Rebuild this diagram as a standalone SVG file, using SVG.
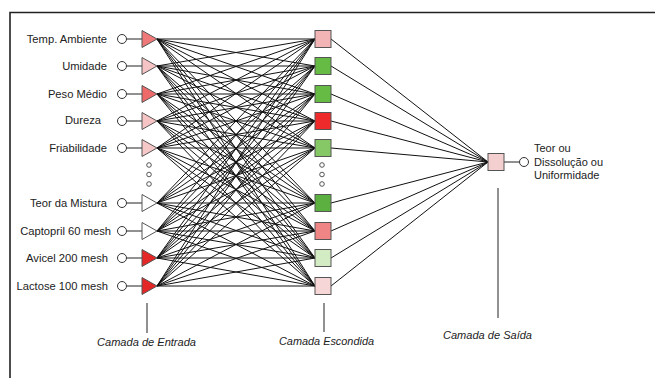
<svg xmlns="http://www.w3.org/2000/svg" width="655" height="378" viewBox="0 0 655 378">
  <style>
    .lbl { font-family: "Liberation Sans", Arial, sans-serif; font-size: 11.2px; fill: #222; }
    .layer { font-family: "Liberation Sans", Arial, sans-serif; font-size: 11px; font-style: italic; fill: #222; }
    .node { stroke: #555; stroke-width: 1; }
    .pin { fill: #fff; stroke: #333; stroke-width: 1; }
    .wire { fill: none; stroke: #222; stroke-width: 1; }
    .mesh { fill: none; stroke: #111; stroke-width: 1; }
    .dot { fill: none; stroke: #444; stroke-width: 0.9; }
  </style>
  <rect width="655" height="378" fill="#fff"/>
  <!-- frame -->
  <path d="M10,378 V12.5 H655" fill="none" stroke="#222" stroke-width="1.6"/>

  <!-- connectors -->
  <g id="connectors">
    <path class="mesh" d="M157,39 L315,39 M157,39 L315,66 M157,39 L315,94 M157,39 L315,121 M157,39 L315,148 M157,39 L315,203 M157,39 L315,231 M157,39 L315,258 M157,39 L315,286"/>
    <path class="mesh" d="M157,66 L315,39 M157,66 L315,66 M157,66 L315,94 M157,66 L315,121 M157,66 L315,148 M157,66 L315,203 M157,66 L315,231 M157,66 L315,258 M157,66 L315,286"/>
    <path class="mesh" d="M157,94 L315,39 M157,94 L315,66 M157,94 L315,94 M157,94 L315,121 M157,94 L315,148 M157,94 L315,203 M157,94 L315,231 M157,94 L315,258 M157,94 L315,286"/>
    <path class="mesh" d="M157,121 L315,39 M157,121 L315,66 M157,121 L315,94 M157,121 L315,121 M157,121 L315,148 M157,121 L315,203 M157,121 L315,231 M157,121 L315,258 M157,121 L315,286"/>
    <path class="mesh" d="M157,148 L315,39 M157,148 L315,66 M157,148 L315,94 M157,148 L315,121 M157,148 L315,148 M157,148 L315,203 M157,148 L315,231 M157,148 L315,258 M157,148 L315,286"/>
    <path class="mesh" d="M157,203 L315,39 M157,203 L315,66 M157,203 L315,94 M157,203 L315,121 M157,203 L315,148 M157,203 L315,203 M157,203 L315,231 M157,203 L315,258 M157,203 L315,286"/>
    <path class="mesh" d="M157,231 L315,39 M157,231 L315,66 M157,231 L315,94 M157,231 L315,121 M157,231 L315,148 M157,231 L315,203 M157,231 L315,231 M157,231 L315,258 M157,231 L315,286"/>
    <path class="mesh" d="M157,258 L315,39 M157,258 L315,66 M157,258 L315,94 M157,258 L315,121 M157,258 L315,148 M157,258 L315,203 M157,258 L315,231 M157,258 L315,258 M157,258 L315,286"/>
    <path class="mesh" d="M157,286 L315,39 M157,286 L315,66 M157,286 L315,94 M157,286 L315,121 M157,286 L315,148 M157,286 L315,203 M157,286 L315,231 M157,286 L315,258 M157,286 L315,286"/>
    <!-- hidden to output -->
    <path class="mesh" d="M331,39 L488,162 M331,66 L488,162 M331,94 L488,162 M331,121 L488,162 M331,148 L488,162 M331,203 L488,162 M331,231 L488,162 M331,258 L488,162 M331,286 L488,162"/>
    <!-- input pins to triangles -->
    <path class="wire" d="M126.5,39 H142 M126.5,66 H142 M126.5,94 H142 M126.5,121 H142 M126.5,148 H142 M126.5,203 H142 M126.5,231 H142 M126.5,258 H142 M126.5,286 H142"/>
    <!-- output square to pin -->
    <path class="wire" d="M504,162 H519.5"/>
    <!-- layer markers -->
    <path class="wire" d="M147,303 V333 M324,303 V332 M498,188 V318"/>
  </g>

  <!-- input layer -->
  <g id="in-temp"><text class="lbl" x="107" y="43" text-anchor="end">Temp. Ambiente</text><circle class="pin" cx="122" cy="39" r="4.5"/><polygon class="node" points="142,30.5 142,47.5 157,39" fill="#ef7878"/></g>
  <g id="in-umidade"><text class="lbl" x="107" y="70" text-anchor="end">Umidade</text><circle class="pin" cx="122" cy="66" r="4.5"/><polygon class="node" points="142,57.5 142,74.5 157,66" fill="#f6c4c4"/></g>
  <g id="in-peso"><text class="lbl" x="107" y="98" text-anchor="end">Peso Médio</text><circle class="pin" cx="122" cy="94" r="4.5"/><polygon class="node" points="142,85.5 142,102.5 157,94" fill="#ee6a6a"/></g>
  <g id="in-dureza"><text class="lbl" x="101" y="124" text-anchor="end">Dureza</text><circle class="pin" cx="122" cy="121" r="4.5"/><polygon class="node" points="142,112.5 142,129.5 157,121" fill="#f6c4c4"/></g>
  <g id="in-friab"><text class="lbl" x="107" y="152" text-anchor="end">Friabilidade</text><circle class="pin" cx="122" cy="148" r="4.5"/><polygon class="node" points="142,139.5 142,156.5 157,148" fill="#f6c8c8"/></g>
  <g id="in-ellipsis"><circle class="dot" cx="149" cy="165" r="2.3"/><circle class="dot" cx="149" cy="174.5" r="2.3"/><circle class="dot" cx="149" cy="184" r="2.3"/></g>
  <g id="in-teor"><text class="lbl" x="107" y="207" text-anchor="end">Teor da Mistura</text><circle class="pin" cx="122" cy="203" r="4.5"/><polygon class="node" points="142,194.5 142,211.5 157,203" fill="#fff"/></g>
  <g id="in-captopril"><text class="lbl" x="111" y="235" text-anchor="end">Captopril 60 mesh</text><circle class="pin" cx="122" cy="231" r="4.5"/><polygon class="node" points="142,222.5 142,239.5 157,231" fill="#fff"/></g>
  <g id="in-avicel"><text class="lbl" x="108" y="262" text-anchor="end">Avicel 200 mesh</text><circle class="pin" cx="122" cy="258" r="4.5"/><polygon class="node" points="142,249.5 142,266.5 157,258" fill="#e52626"/></g>
  <g id="in-lactose"><text class="lbl" x="108" y="290" text-anchor="end">Lactose 100 mesh</text><circle class="pin" cx="122" cy="286" r="4.5"/><polygon class="node" points="142,277.5 142,294.5 157,286" fill="#e52626"/></g>

  <!-- hidden layer -->
  <g id="h1"><rect class="node" x="315" y="30.5" width="16" height="17" fill="#f2b4b4"/></g>
  <g id="h2"><rect class="node" x="315" y="57.5" width="16" height="17" fill="#66bb44"/></g>
  <g id="h3"><rect class="node" x="315" y="85.5" width="16" height="17" fill="#66bb44"/></g>
  <g id="h4"><rect class="node" x="315" y="112.5" width="16" height="17" fill="#ee2a2a"/></g>
  <g id="h5"><rect class="node" x="315" y="139.5" width="16" height="17" fill="#86c766"/></g>
  <g id="h-ellipsis"><circle class="dot" cx="322" cy="165" r="2.3"/><circle class="dot" cx="322" cy="174.5" r="2.3"/><circle class="dot" cx="322" cy="184" r="2.3"/></g>
  <g id="h6"><rect class="node" x="315" y="194.5" width="16" height="17" fill="#5cb040"/></g>
  <g id="h7"><rect class="node" x="315" y="222.5" width="16" height="17" fill="#ef8585"/></g>
  <g id="h8"><rect class="node" x="315" y="249.5" width="16" height="17" fill="#d4ecc4"/></g>
  <g id="h9"><rect class="node" x="315" y="277.5" width="16" height="17" fill="#f6d6d6"/></g>

  <!-- output layer -->
  <g id="out">
    <rect class="node" x="488" y="153.5" width="16" height="17" fill="#f4cfcf"/>
    <circle class="pin" cx="524" cy="162" r="4.5"/>
    <text class="lbl" x="534" style="font-size:11px"><tspan x="534" y="152">Teor ou</tspan><tspan x="534" y="165.5">Dissolução ou</tspan><tspan x="534" y="179">Uniformidade</tspan></text>
  </g>

  <!-- layer captions -->
  <g id="captions">
    <text class="layer" x="97" y="346" textLength="99" lengthAdjust="spacingAndGlyphs">Camada de Entrada</text>
    <text class="layer" x="279" y="345" textLength="95" lengthAdjust="spacingAndGlyphs">Camada Escondida</text>
    <text class="layer" x="443" y="339" textLength="89" lengthAdjust="spacingAndGlyphs">Camada de Saída</text>
  </g>
</svg>
